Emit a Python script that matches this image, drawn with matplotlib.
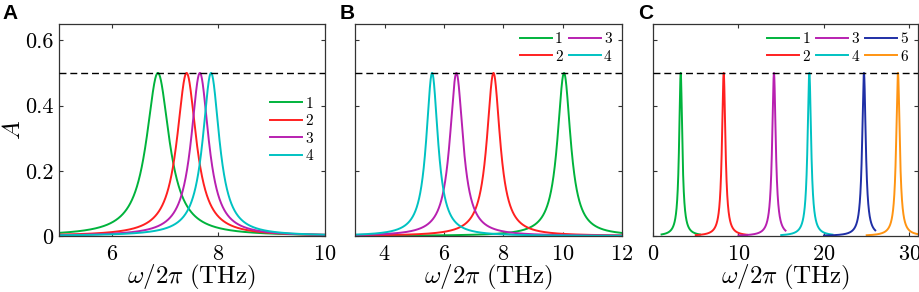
import numpy as np
import matplotlib.pyplot as plt

plt.rcParams['font.family'] = 'serif'
plt.rcParams['font.serif'] = ['cmr10']
plt.rcParams['mathtext.fontset'] = 'cm'
plt.rcParams['axes.formatter.use_mathtext'] = True

# resonance peaks: centre (THz) and half width (THz)
a_labels = ['1', '2', '3', '4']
a_peaks = [6.86, 7.40, 7.65, 7.86]
a_widths = [0.26, 0.22, 0.20, 0.19]

b_labels = ['1', '2', '3', '4']
b_peaks = [10.05, 7.67, 6.42, 5.60]
b_widths = [0.27, 0.27, 0.27, 0.24]

c_labels = ['1', '2', '3', '4', '5', '6']
c_peaks = [3.24, 8.27, 14.15, 18.29, 24.68, 28.66]
c_widths = [0.22, 0.24, 0.25, 0.25, 0.25, 0.25]
c_start = [1.0, 5.0, 10.0, 15.0, 20.0, 25.0]
c_stop = [5.5, 11.0, 15.5, 21.0, 26.0, 31.0]

peak_height = 0.5

colors = ['#00b33c', '#ff2020', '#b820b0', '#00c2c2', '#1f2fa6', '#ff9412']
spine_c = '#333333'


def lorentz(x, x0, g):
    return peak_height * g**2 / ((x - x0)**2 + g**2)


def style(ax, xlim, xticks, show_y):
    ax.set_xlim(*xlim)
    ax.set_ylim(0, 0.65)
    ax.set_xticks(xticks)
    ax.set_yticks([0, 0.2, 0.4, 0.6])
    ax.set_yticklabels(['0', '0.2', '0.4', '0.6'])
    ax.tick_params(direction='in', top=True, right=True, length=3.2, width=0.8,
                   labelsize=16, pad=4, color=spine_c, labelleft=show_y)
    ax.tick_params(axis='x', pad=6)
    for s in ax.spines.values():
        s.set_color(spine_c)
        s.set_linewidth(0.9)
    ax.axhline(peak_height, color='k', lw=1.0, ls=(0, (5, 2.8)), zorder=5)
    ax.set_xlabel(r'$\omega/2\pi\ (\mathrm{THz})$', fontsize=18, labelpad=-1)


fig = plt.figure(figsize=(9.2, 2.92), dpi=100)
axA = fig.add_axes([0.0641, 0.1918, 0.289, 0.726])
axB = fig.add_axes([0.3859, 0.1918, 0.290, 0.726])
axC = fig.add_axes([0.7098, 0.1918, 0.288, 0.726])

# panel A
x = np.linspace(5, 10, 2000)
for i in range(len(a_peaks)):
    axA.plot(x, lorentz(x, a_peaks[i], a_widths[i]), color=colors[i], lw=1.4,
             label=a_labels[i])
style(axA, (5, 10), [6, 8, 10], True)
axA.set_ylabel(r'$A$', fontsize=18, labelpad=0)
axA.legend(loc='center right', bbox_to_anchor=(0.955, 0.5), frameon=False,
           fontsize=11, handlelength=2.1, handletextpad=0.2, labelspacing=0.25,
           borderpad=0, borderaxespad=0)

# panel B
x = np.linspace(3, 12, 3000)
for i in range(len(b_peaks)):
    axB.plot(x, lorentz(x, b_peaks[i], b_widths[i]), color=colors[i], lw=1.4,
             label=b_labels[i])
style(axB, (3, 12), [4, 6, 8, 10, 12], False)
axB.legend(loc='upper right', bbox_to_anchor=(0.962, 0.96), frameon=False, ncol=2,
           fontsize=11, handlelength=2.1, handletextpad=0.2, labelspacing=0.25,
           columnspacing=0.4, borderpad=0, borderaxespad=0)

# panel C
for i in range(len(c_peaks)):
    x = np.linspace(c_start[i], c_stop[i], 3000)
    axC.plot(x, lorentz(x, c_peaks[i], c_widths[i]), color=colors[i], lw=1.4,
             label=c_labels[i])
style(axC, (0, 31), [0, 10, 20, 30], False)
axC.legend(loc='upper right', bbox_to_anchor=(0.962, 0.96), frameon=False, ncol=3,
           fontsize=11, handlelength=2.1, handletextpad=0.2, labelspacing=0.25,
           columnspacing=0.4, borderpad=0, borderaxespad=0)

for lab, xp in [('A', 0.003), ('B', 0.369), ('C', 0.694)]:
    fig.text(xp, 0.985, lab, family='Liberation Sans', weight='bold', fontsize=15,
             ha='left', va='top')

fig.savefig('out.png', dpi=100)
